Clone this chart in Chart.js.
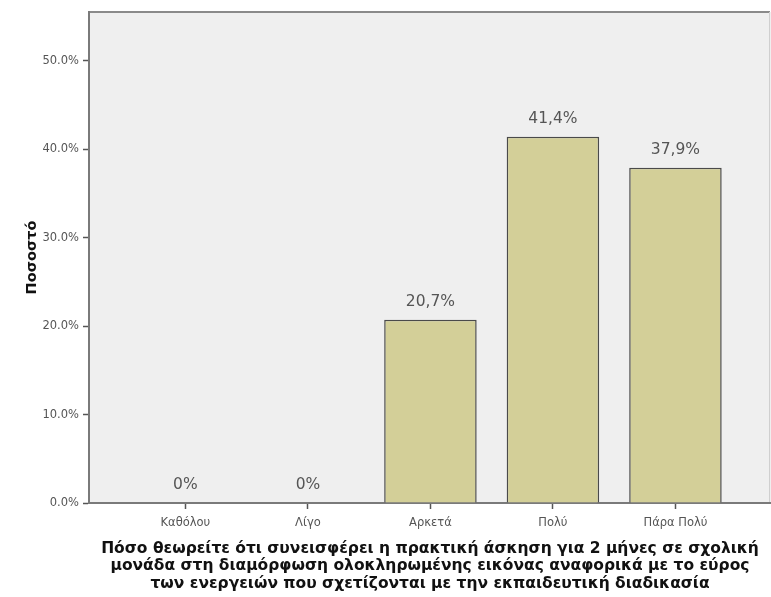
<!DOCTYPE html>
<html>
<head>
<meta charset="utf-8">
<script src="https://cdn.jsdelivr.net/npm/chart.js@4"></script>
<style>
  html, body { margin: 0; padding: 0; background: #fff; }
  #wrap { width: 771px; height: 597px; }
</style>
</head>
<body>
<div id="wrap"><canvas id="grafico" width="771" height="597"></canvas></div>
<script>
const categorias = ['Καθόλου', 'Λίγο', 'Αρκετά', 'Πολύ', 'Πάρα Πολύ'];
const porcentajes = [0, 0, 20.7, 41.4, 37.9];
const ticksY = [0, 10, 20, 30, 40, 50];
const tituloX = [
    'Πόσο θεωρείτε ότι συνεισφέρει η πρακτική άσκηση για 2 μήνες σε σχολική',
    'μονάδα στη διαμόρφωση ολοκληρωμένης εικόνας αναφορικά με το εύρος',
    'των ενεργειών που σχετίζονται με την εκπαιδευτική διαδικασία'
];
const tituloY = 'Ποσοστό';

const fuente = '"DejaVu Sans", Verdana, sans-serif';

const fondoArea = {
    id: 'fondoArea',
    beforeDraw(chart) {
        const { ctx, chartArea: a } = chart;
        ctx.save();
        ctx.fillStyle = '#efefef';
        ctx.fillRect(a.left, a.top, a.right - a.left, a.bottom - a.top);
        ctx.strokeStyle = '#8a8a8a';
        ctx.lineWidth = 2;
        ctx.beginPath();
        ctx.moveTo(a.left, a.bottom);
        ctx.lineTo(a.left, a.top);
        ctx.lineTo(a.right - 1, a.top);
        ctx.stroke();
        ctx.strokeStyle = '#cfcfcf';
        ctx.lineWidth = 1;
        ctx.beginPath();
        ctx.moveTo(a.right - 1.5, a.top);
        ctx.lineTo(a.right - 1.5, a.bottom);
        ctx.stroke();
        ctx.restore();
    }
};

const etiquetas = {
    id: 'etiquetas',
    afterDatasetsDraw(chart) {
        const { ctx } = chart;
        const meta = chart.getDatasetMeta(0);
        ctx.save();
        ctx.font = '15.5px ' + fuente;
        ctx.fillStyle = '#555';
        ctx.textAlign = 'center';
        ctx.textBaseline = 'bottom';
        meta.data.forEach((bar, i) => {
            const v = porcentajes[i];
            const txt = v === 0 ? '0%' : v.toFixed(1).replace('.', ',') + '%';
            ctx.fillText(txt, bar.x, bar.y - 10);
        });
        ctx.restore();
    }
};

new Chart(document.getElementById('grafico'), {
    type: 'bar',
    data: {
        datasets: [{
            data: porcentajes.map((v, i) => ({ x: i, y: v })),
            backgroundColor: '#d3cf98',
            borderColor: '#4a4a4a',
            borderWidth: 1.5,
            barPercentage: 0.755,
            categoryPercentage: 1
        }]
    },
    options: {
        responsive: false,
        devicePixelRatio: 1,
        animation: false,
        layout: { padding: { top: 12, right: 0, left: 0, bottom: 0 } },
        plugins: {
            legend: { display: false },
            tooltip: { enabled: false }
        },
        scales: {
            x: {
                type: 'linear',
                offset: false,
                min: -0.787,
                max: 4.78,
                afterBuildTicks: s => { s.ticks = categorias.map((c, i) => ({ value: i })); },
                afterFit: s => { s.height = 94; },
                ticks: {
                    callback: v => categorias[v],
                    font: { family: fuente, size: 11.5 },
                    color: '#555',
                    padding: 7,
                    maxRotation: 0
                },
                grid: { offset: false, drawOnChartArea: false, tickLength: 6, color: '#555', tickWidth: 1.5 },
                border: { color: '#7a7a7a', width: 2 },
                title: {
                    display: true,
                    text: tituloX,
                    font: { family: fuente, size: 15.5, weight: 'bold', lineHeight: 1.1 },
                    color: '#111',
                    padding: { top: 6, bottom: 5 }
                }
            },
            y: {
                min: 0,
                max: 55.5,
                afterBuildTicks: s => { s.ticks = ticksY.map(v => ({ value: v })); },
                afterFit: s => { s.width = 89; },
                ticks: {
                    callback: v => v.toFixed(1) + '%',
                    font: { family: fuente, size: 11.5 },
                    color: '#555',
                    padding: 4
                },
                grid: { drawOnChartArea: false, tickLength: 6, color: '#555', tickWidth: 1.5 },
                border: { color: '#7a7a7a', width: 2 },
                title: {
                    display: true,
                    text: tituloY,
                    font: { family: fuente, size: 14.5, weight: 'bold' },
                    color: '#111',
                    padding: { top: 24, bottom: 0 }
                }
            }
        }
    },
    plugins: [fondoArea, etiquetas]
});
</script>
</body>
</html>
